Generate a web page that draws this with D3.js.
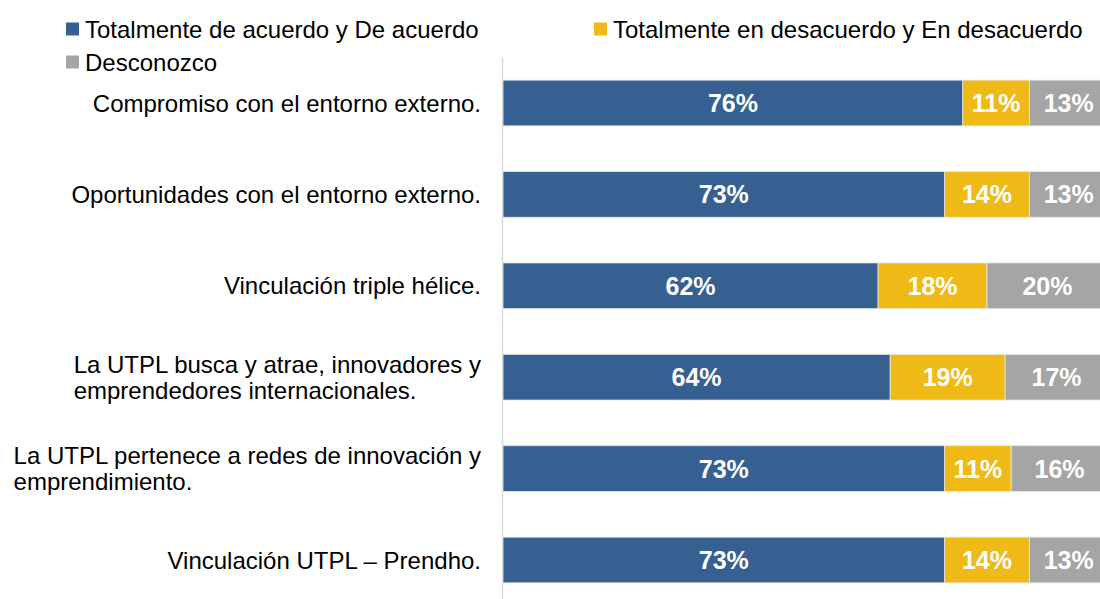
<!DOCTYPE html>
<html lang="es">
<head>
    <meta charset="UTF-8">
    <title>Vinculación</title>
    <style>
        body { margin: 0; background: #fff; }
        svg { display: block; font-family: "Liberation Sans", Arial, sans-serif; }
    </style>
</head>
<body>
<script src="https://cdn.jsdelivr.net/npm/d3@7"></script>
<script>
    // categories, top to bottom (multi-line labels split with |)
    const categories = [
        "Compromiso con el entorno externo.",
        "Oportunidades con el entorno externo.",
        "Vinculación triple hélice.",
        "La UTPL busca y atrae, innovadores y|emprendedores internacionales.",
        "La UTPL pertenece a redes de innovación y|emprendimiento.",
        "Vinculación UTPL – Prendho."
    ];
    const seriesNames = [
        "Totalmente de acuerdo y De acuerdo",
        "Totalmente en desacuerdo y En desacuerdo",
        "Desconozco"
    ];
    const acuerdo = [76, 73, 62, 64, 73, 73];
    const desacuerdo = [11, 14, 18, 19, 11, 14];
    const desconozco = [13, 13, 20, 17, 16, 13];
    const colors = ["#376092", "#efba16", "#a5a5a5"];

    const width = 1100, height = 599;

    const svg = d3.select("body").append("svg")
        .attr("width", width)
        .attr("height", height);

    const data = categories.map((c, i) => ({
        cat: c, v: [acuerdo[i], desacuerdo[i], desconozco[i]]
    }));

    // Scales
    const xScale = d3.scaleLinear().domain([0, 100]).range([503, 1108]);
    const yScale = d3.scaleBand()
        .domain(categories)
        .range([57.3, 605.7])
        .paddingInner(0.5)
        .paddingOuter(0.25);

    // axis line
    svg.append("line")
        .attr("x1", 502.5).attr("x2", 502.5)
        .attr("y1", 58).attr("y2", height)
        .attr("stroke", "#d9d9d9")
        .attr("stroke-width", 1.5);

    // Bars
    const rows = svg.selectAll(".row")
        .data(data)
        .enter().append("g")
        .attr("class", "row");

    rows.each(function (d) {
        const g = d3.select(this);
        let acc = 0;
        d.v.forEach((v, k) => {
            const x0 = xScale(acc), x1 = xScale(acc + v);
            g.append("rect")
                .attr("x", x0)
                .attr("y", yScale(d.cat))
                .attr("width", x1 - x0)
                .attr("height", yScale.bandwidth())
                .attr("fill", colors[k])
                .attr("stroke", "#e6e6e6")
                .attr("stroke-width", 0.8);
            g.append("text")
                .attr("x", (x0 + x1) / 2)
                .attr("y", yScale(d.cat) + yScale.bandwidth() / 2)
                .attr("dy", "0.36em")
                .attr("text-anchor", "middle")
                .attr("fill", "#fff")
                .attr("font-weight", "bold")
                .attr("font-size", 25)
                .text(v + "%");
            acc += v;
        });
    });

    // Category labels (block right-aligned, lines left-aligned)
    const labelRight = 481;
    data.forEach(d => {
        const lines = d.cat.split("|");
        const cy = yScale(d.cat) + yScale.bandwidth() / 2;
        const t = svg.append("text")
            .attr("font-size", 24)
            .attr("fill", "#000");
        lines.forEach((l, j) => {
            t.append("tspan")
                .attr("x", 0)
                .attr("y", cy + (j - (lines.length - 1) / 2) * 26.5)
                .attr("dy", "0.36em")
                .text(l);
        });
        const w = t.node().getBBox().width;
        t.selectAll("tspan").attr("x", labelRight - w);
    });

    // Legend
    const legendPos = [[66, 29], [594, 29], [66, 62]];
    seriesNames.forEach((name, k) => {
        const [lx, ly] = legendPos[k];
        svg.append("rect")
            .attr("x", lx).attr("y", ly - 6.5)
            .attr("width", 13).attr("height", 13)
            .attr("fill", colors[k]);
        svg.append("text")
            .attr("x", lx + 19).attr("y", ly)
            .attr("dy", "0.36em")
            .attr("font-size", 24)
            .attr("fill", "#000")
            .text(name);
    });
</script>
</body>
</html>
